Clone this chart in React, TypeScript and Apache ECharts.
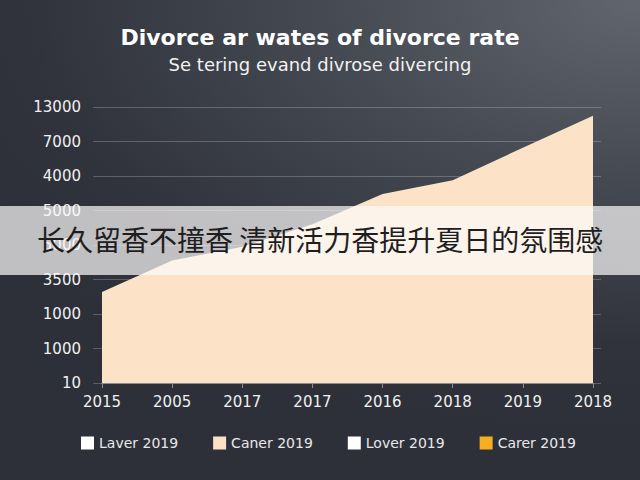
import React, { useEffect, useRef } from "react";
import * as echarts from "echarts";

const categories = ["2015", "2005", "2017", "2017", "2016", "2018", "2019", "2018"];
const yTickLabels = ["10", "1000", "1000", "3500", "5000", "5000", "4000", "7000", "13000"];
const canerValues = [2.64, 3.55, 3.95, 4.6, 5.48, 5.88, 6.82, 7.75];
const legendNames = ["Laver 2019", "Caner 2019", "Lover 2019", "Carer 2019"];
const legendColors = ["#ffffff", "#fbe1c6", "#ffffff", "#f5b021"];
const titleText = "Divorce ar wates of divorce rate";
const subtitleText = "Se tering evand divrose divercing";
const bannerText = "长久留香不撞香 清新活力香提升夏日的氛围感";

export default function App() {
  const ref = useRef<HTMLDivElement>(null);
  useEffect(() => {
    if (!ref.current) return;
    const chart = echarts.init(ref.current, null, { renderer: "svg" });
    const font = "'DejaVu Sans', sans-serif";
    const series: any[] = legendNames.map((name, i) => {
      if (name === "Caner 2019") {
        return {
          name,
          type: "line",
          data: canerValues,
          symbol: "none",
          lineStyle: { width: 0, color: legendColors[i] },
          itemStyle: { color: legendColors[i] },
          areaStyle: { color: "#fce3c8", opacity: 1 },
          z: 2,
        };
      }
      return {
        name,
        type: "line",
        data: [],
        symbol: "none",
        itemStyle: { color: legendColors[i] },
        lineStyle: { color: legendColors[i] },
      };
    });
    chart.setOption({
      animation: false,
      backgroundColor: "transparent",
      title: [
        {
          text: titleText,
          left: "center",
          top: 21,
          textStyle: { color: "#ffffff", fontSize: 22, fontWeight: "bold", fontFamily: font },
        },
        {
          text: subtitleText,
          left: "center",
          top: 50,
          textStyle: { color: "#f2f2f2", fontSize: 18, fontWeight: "normal", fontFamily: font },
        },
      ],
      legend: {
        bottom: 25,
        left: 76,
        icon: "rect",
        itemWidth: 13,
        itemHeight: 13,
        itemGap: 35,
        data: legendNames.map((n, i) => ({ name: n, itemStyle: { color: legendColors[i] } })),
        textStyle: { color: "#e8e8e8", fontSize: 14, fontFamily: font },
      },
      grid: { left: 102, right: 47, top: 107, bottom: 97, containLabel: false },
      xAxis: {
        type: "category",
        data: categories,
        boundaryGap: false,
        axisLine: { show: true, lineStyle: { color: "#8a8c92", width: 1 } },
        axisTick: { show: true, alignWithLabel: true, length: 5, lineStyle: { color: "#8a8c92" } },
        axisLabel: { color: "#f0f0f0", fontSize: 15, margin: 11, fontFamily: font },
        splitLine: { show: false },
      },
      yAxis: [
        {
          type: "value",
          min: 0,
          max: 8,
          interval: 1,
          axisLine: { show: false },
          axisTick: { show: true, length: 9, lineStyle: { color: "rgba(255,255,255,0.22)" } },
          axisLabel: {
            color: "#f0f0f0",
            fontSize: 15,
            margin: 21,
            fontFamily: font,
            formatter: (v: number) => yTickLabels[Math.round(v)] ?? "",
          },
          splitLine: { show: true, lineStyle: { color: "rgba(255,255,255,0.22)", width: 1 } },
        },
        {
          type: "value",
          position: "right",
          min: 0,
          max: 8,
          interval: 1,
          axisLine: { show: false },
          axisTick: { show: true, length: 8, lineStyle: { color: "rgba(255,255,255,0.22)" } },
          axisLabel: { show: false },
          splitLine: { show: false },
        },
      ],
      series,
      graphic: [
        {
          type: "rect",
          left: 0,
          top: 206,
          shape: { width: 640, height: 69 },
          style: { fill: "rgba(252,250,249,0.71)" },
          z: 100,
        },
        {
          type: "text",
          left: 37,
          top: 225,
          style: {
            text: bannerText,
            fill: "#1e1e1e",
            font: "28px 'Noto Sans CJK SC', sans-serif",
          },
          z: 101,
        },
      ],
    });
    return () => chart.dispose();
  }, []);
  return (
    <div
      style={{
        position: "absolute",
        left: 0,
        top: 0,
        width: 640,
        height: 480,
        background:
          "radial-gradient(ellipse 120% 90% at 100% 0%, #61656e 0%, #464a53 40%, #30333c 80%, #2d3039 100%)",
      }}
    >
      <div ref={ref} style={{ width: 640, height: 480 }} />
    </div>
  );
}
